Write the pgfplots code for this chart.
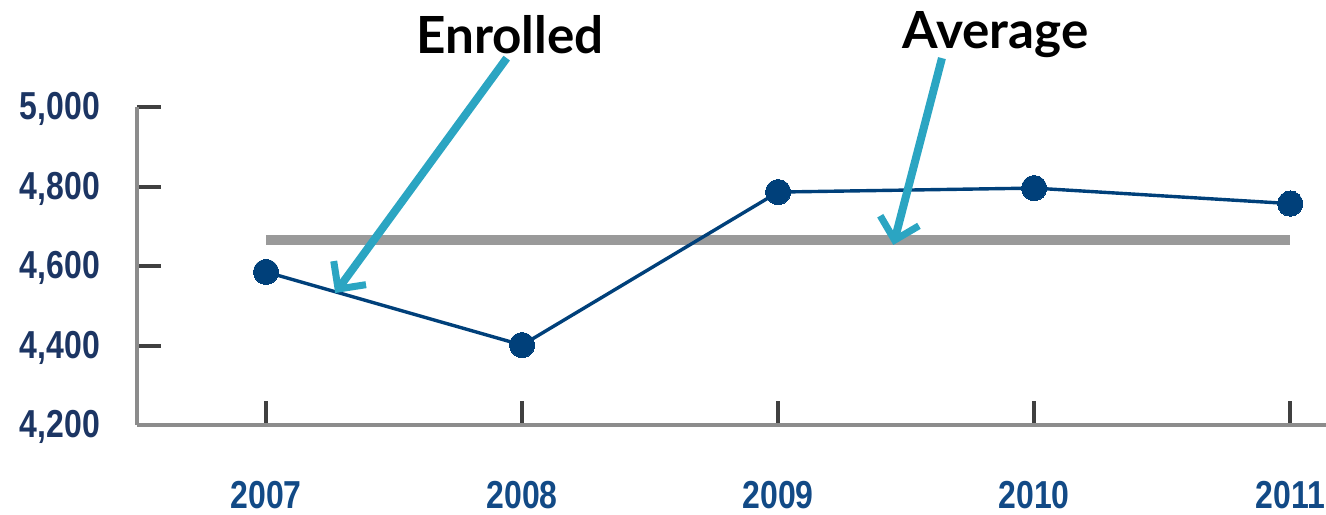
\documentclass[border=0pt]{standalone}
\usepackage{pgfplots}
\pgfplotsset{compat=1.18}
\usetikzlibrary{arrows.meta}
\usepackage{fontspec}
\setmainfont{Liberation Sans}
\newfontfamily\tickfont[FakeStretch=0.82]{Liberation Sans}
\newfontfamily\headfont{Lato}
\definecolor{navy}{HTML}{00407A}
\definecolor{tickblue}{HTML}{1C3563}
\definecolor{yearblue}{HTML}{124A86}
\definecolor{avggray}{HTML}{9A9A9A}
\definecolor{teal}{HTML}{2BA5C2}
\definecolor{axgray}{HTML}{8C8C8C}
\begin{document}
\begin{tikzpicture}
\begin{axis}[
  name=ax,
  scale only axis,
  width=594.5pt, height=159pt,
  xmin=2006.496, xmax=2011.14,
  ymin=4200, ymax=5000,
  axis x line=bottom, axis y line=left,
  axis line style={-, line width=2.4pt, axgray},
  xtick={2007,2008,2009,2010,2011},
  ytick={4200,4400,4600,4800,5000},
  tick align=inside,
  major tick length=12pt,
  tick style={line width=2pt, black!75},
  /pgf/number format/assume math mode=true,
  /pgf/number format/.cd, 1000 sep={,},
  /pgfplots/.cd,
  xticklabel={\pgfmathprintnumber[1000 sep={}]{\tick}},
  yticklabel style={font=\tickfont\bfseries\fontsize{19.5}{20}\selectfont, text=tickblue, xshift=-15pt, yshift=-1pt},
  xticklabel style={font=\tickfont\bfseries\fontsize{19.5}{20}\selectfont, text=yearblue, yshift=-24.5pt},
  clip=false,
]
\addplot[avggray, line width=5pt] coordinates {(2007,4665) (2011,4665)};
\addplot[navy, line width=1.7pt, mark=*, mark size=6.3pt, mark options={fill=navy, draw=navy, line width=0pt}]
  coordinates {(2007,4585) (2008,4401) (2009,4786) (2010,4796) (2011,4757)};
\draw[teal, line width=4pt, -{Straight Barb[length=10pt,width=20pt,line width=3.5pt]}] (axis cs:2007.94,5123) -- (axis cs:2007.27,4532);
\draw[teal, line width=4pt, -{Straight Barb[length=10pt,width=20pt,line width=3.5pt]}] (axis cs:2009.64,5123) -- (axis cs:2009.45,4653);
\node[font=\headfont\bfseries\fontsize{25.6}{27}\selectfont] at (axis cs:2007.953,5181) {Enrolled};
\node[font=\headfont\bfseries\fontsize{25.6}{27}\selectfont] at (axis cs:2009.85,5181) {Average};
\end{axis}
\pgfresetboundingbox
\useasboundingbox ([shift={(-68.5pt,-44.5pt)}]ax.south west) rectangle ([shift={(0pt,53.5pt)}]ax.north east);
\end{tikzpicture}
\end{document}
